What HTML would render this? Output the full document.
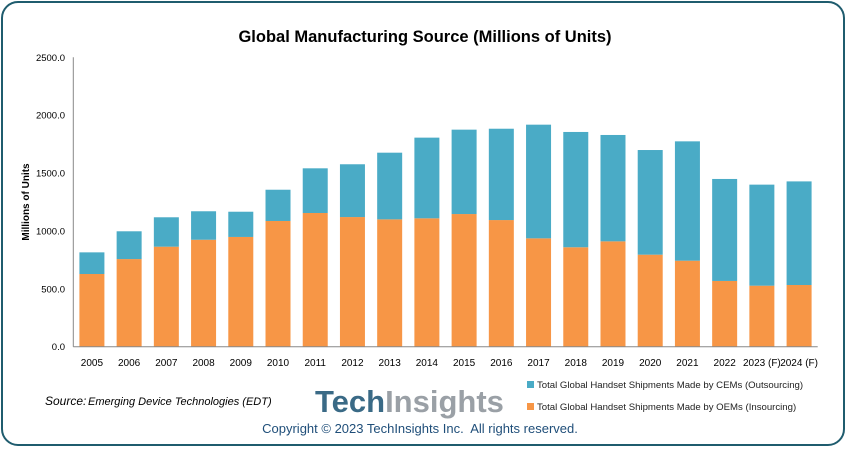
<!DOCTYPE html>
<html><head><meta charset="utf-8"><style>
body{margin:0;width:846px;height:447px;background:#fff;overflow:hidden;font-family:"Liberation Sans",sans-serif}
</style></head><body>
<svg id="chart" width="846" height="447" xmlns="http://www.w3.org/2000/svg">
<rect x="2" y="2" width="842" height="443" rx="16" fill="#fff" stroke="#1f5c6e" stroke-width="2"/>
<text x="425" y="42" text-anchor="middle" font-size="16.5" font-weight="bold" fill="#000">Global Manufacturing Source (Millions of Units)</text>
<text transform="translate(29,202) rotate(-90)" text-anchor="middle" font-size="10" font-weight="bold">Millions of Units</text>
<g id="plot"></g>
<text x="45" y="405" font-size="12" font-style="italic">Source:</text>
<text x="88" y="405" font-size="11" font-style="italic">Emerging Device Technologies (EDT)</text>
<text x="315" y="412" font-size="31" font-weight="bold"><tspan fill="#3a6a86">Tech</tspan><tspan fill="#9aa0a6">Insights</tspan></text>
<rect x="527" y="381" width="7" height="7" fill="#4aabc6"/>
<text x="537" y="388" font-size="9.6" fill="#222">Total Global Handset Shipments Made by CEMs (Outsourcing)</text>
<rect x="527" y="403" width="7" height="7" fill="#f79646"/>
<text x="537" y="410" font-size="9.6" fill="#222">Total Global Handset Shipments Made by OEMs (Insourcing)</text>
<text x="420" y="433" text-anchor="middle" font-size="13" fill="#1f4e79" xml:space="preserve" style="white-space:pre">Copyright © 2023 TechInsights Inc.  All rights reserved.</text>
</svg>
<script>
const categories=["2005","2006","2007","2008","2009","2010","2011","2012","2013","2014","2015","2016","2017","2018","2019","2020","2021","2022","2023 (F)","2024 (F)"];
const oemValues=[628,757,864,924,948,1086,1155,1120,1100,1109,1146,1094,936,859,910,795,743,568,527,533];
const cemValues=[187,240,254,246,218,270,386,456,576,697,729,789,982,996,919,904,1031,881,873,895];
const yTicks=[0,500,1000,1500,2000,2500];
const yTickLabels=["0.0","500.0","1000.0","1500.0","2000.0","2500.0"];
const NS="http://www.w3.org/2000/svg";
const plot=document.getElementById('plot');
const x0=73.3,x1=817.7,y0=346.7,yTop=57.3,yMax=2500;
const band=(x1-x0)/categories.length,bw=25;
function yScale(v){return y0-(v/yMax)*(y0-yTop);}
function xCenter(i){return x0+band*(i+0.5);}
function mk(tag,attrs){const e=document.createElementNS(NS,tag);for(const k in attrs)e.setAttribute(k,attrs[k]);plot.appendChild(e);return e;}
yTicks.forEach((t,i)=>{
  const e=mk('text',{x:65,y:yScale(t)+3.5,'text-anchor':'end','font-size':'9.5',fill:'#000'});
  e.textContent=yTickLabels[i];
  
  
});
categories.forEach((c,i)=>{
  const cx=xCenter(i);
  const o=mk('rect',{x:cx-bw/2,y:yScale(oemValues[i]),width:bw,height:y0-yScale(oemValues[i]),fill:'#f79646'});
  
  
  const tot=oemValues[i]+cemValues[i];
  const b=mk('rect',{x:cx-bw/2,y:yScale(tot),width:bw,height:yScale(oemValues[i])-yScale(tot),fill:'#4aabc6'});
  
  
  const t=mk('text',{x:cx,y:366,'text-anchor':'middle','font-size':'10',fill:'#000'});
  t.textContent=c;
  
  
});
const ya=mk('line',{x1:x0,y1:yTop,x2:x0,y2:y0,stroke:'#888','stroke-width':1});


const xa=mk('line',{x1:x0,y1:y0,x2:x1,y2:y0,stroke:'#888','stroke-width':1});


</script>
</body></html>
